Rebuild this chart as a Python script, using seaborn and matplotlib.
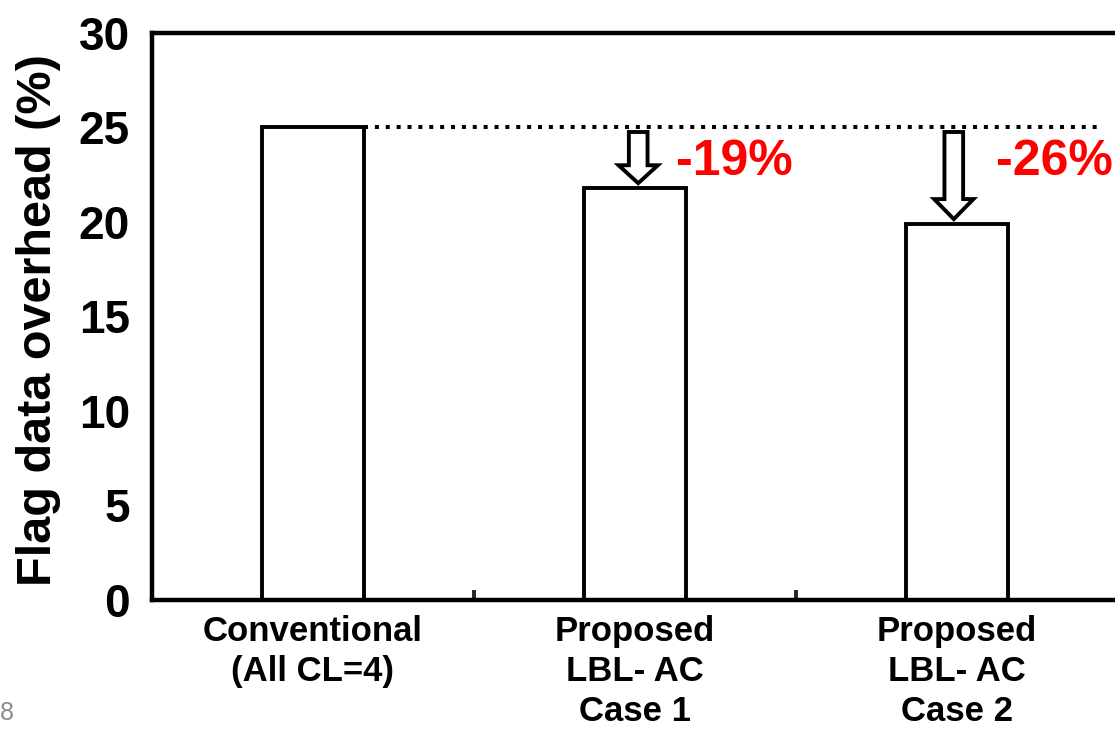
import matplotlib
matplotlib.use("Agg")
import matplotlib.pyplot as plt
from matplotlib.patches import FancyArrow
import seaborn as sns

# Data
categories = ["Conventional\n(All CL=4)", "Proposed\nLBL- AC\nCase 1", "Proposed\nLBL- AC\nCase 2"]
overhead = [25.0, 21.8, 19.9]
reduction_labels = ["-19%", "-26%"]
y_ticks = [0, 5, 10, 15, 20, 25, 30]

sns.set_theme(style="white")
plt.rcParams["font.family"] = ["Liberation Sans", "DejaVu Sans"]
plt.rcParams["font.weight"] = "bold"

fig = plt.figure(figsize=(11.15, 7.29), dpi=100)
ax = fig.add_axes([0.1363, 0.177, 0.8664, 0.7778])

sns.barplot(x=categories, y=overhead, ax=ax, width=0.315, color="white",
            edgecolor="black", linewidth=2.8, saturation=1)

ax.set_xlim(-0.5, 2.5)
ax.set_ylim(0, 30)
ax.set_yticks(y_ticks)
ax.set_yticklabels([str(t) for t in y_ticks], fontsize=33, fontweight="bold")
ax.set_xticks(range(len(categories)))
ax.set_xticklabels(categories, fontsize=25, fontweight="bold", linespacing=1.26)
ax.set_xticks([0.5, 1.5], minor=True)

ax.tick_params(axis="y", direction="in", length=8, width=2.8, pad=16, colors="black")
ax.tick_params(axis="x", which="major", length=0, pad=11, colors="black")
ax.tick_params(axis="x", which="minor", direction="in", length=7, width=2.8, bottom=True)

for side in ["left", "bottom", "top", "right"]:
    ax.spines[side].set_visible(True)
    ax.spines[side].set_color("black")
    ax.spines[side].set_linewidth(3.2)

ax.set_xlabel("")
ax.set_ylabel("Flag data overhead (%)", fontsize=35, fontweight="bold", color="black")
ax.yaxis.set_label_coords(-0.094, 0.494)

# Reference level of the conventional scheme
bar_half = 0.315 / 2
ax.plot([0 + bar_half, 2.444], [overhead[0], overhead[0]], color="black",
        linewidth=2.9, linestyle=(0, (1.0, 1.7)), solid_capstyle="butt")

# Hollow arrows showing the reduction, with percentage labels
arrow_top = 24.76
label_x = [1.127, 2.121]
for i, (x, val) in enumerate(zip([1.01, 1.99], overhead[1:])):
    tip = val + 0.25
    head_len = 0.95 if i == 0 else 1.06
    arr = FancyArrow(x, arrow_top, 0, tip - arrow_top, width=0.058,
                     head_width=0.122, head_length=head_len,
                     length_includes_head=True, facecolor="white",
                     edgecolor="black", linewidth=2.8, joinstyle="miter", zorder=5)
    ax.add_patch(arr)
    ax.text(label_x[i], 23.15, reduction_labels[i], color="#ff0000", fontsize=36,
            fontweight="bold", ha="left", va="center")

fig.text(0.0, 0.006, "8", fontsize=18, color="#8c8c8c", fontweight="normal",
         ha="left", va="bottom")

fig.savefig("out.png", dpi=100)
